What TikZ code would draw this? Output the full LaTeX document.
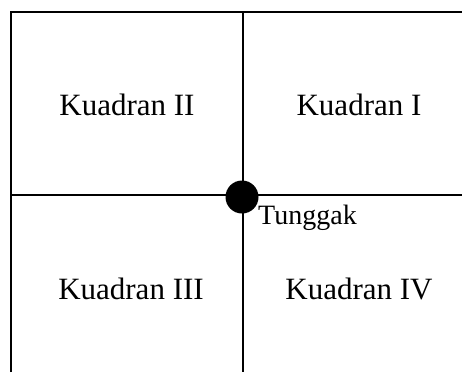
\documentclass[tikz,border=0pt]{standalone}
\usepackage{fontspec}
\setmainfont{Liberation Serif}
\usetikzlibrary{positioning}

\begin{document}
\begin{tikzpicture}[
  x=1pt, y=-1pt,
  gridline/.style={line width=2pt, color=black},
  quadlabel/.style={font=\fontsize{31}{35}\selectfont, inner sep=0pt, anchor=base},
  stump/.style={circle, fill=black, minimum size=33pt, inner sep=0pt},
  stumplabel/.style={font=\fontsize{28}{32}\selectfont, inner sep=0pt, anchor=base west}
]
  \useasboundingbox (0,0) rectangle (462,372);

  % frame (open to the right and bottom)
  \draw[gridline] (11,372) -- (11,12) -- (462,12);
  % axes
  \draw[gridline] (11,194.5) -- (462,194.5);
  \draw[gridline] (242.5,12) -- (242.5,372);

  \node[quadlabel] (q2) at (127,115.5) {Kuadran II};
  \node[quadlabel] (q1) at (359,115.5) {Kuadran I};
  \node[quadlabel] (q3) at (131,299.5) {Kuadran III};
  \node[quadlabel] (q4) at (359,299.5) {Kuadran IV};

  \node[stump] (dot) at (242,197) {};
  \node[stumplabel] (tunggak) at (258,224) {Tunggak};
\end{tikzpicture}
\end{document}
